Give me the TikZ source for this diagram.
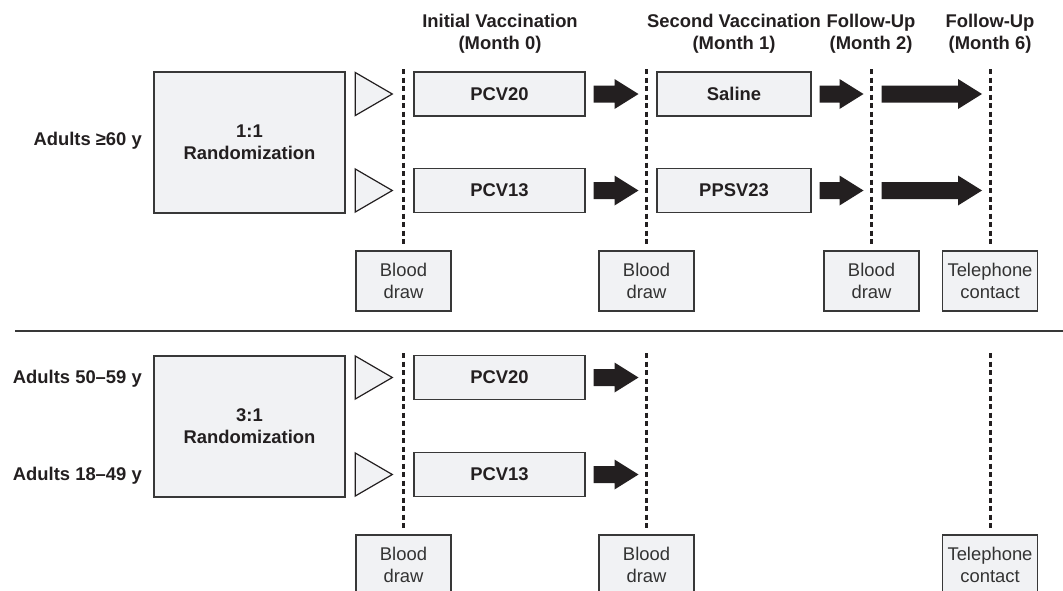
\documentclass[tikz,border=0pt]{standalone}
\usepackage{fontspec}
\setmainfont{Liberation Sans}
\usepackage{tikz}
\usetikzlibrary{calc,positioning}
\definecolor{ink}{HTML}{231F20}
\definecolor{edge}{HTML}{383838}
\definecolor{panel}{HTML}{F1F2F4}
\definecolor{soft}{HTML}{333333}
\tikzset{
  box/.style={draw=edge, fill=panel, line width=1.4pt, inner sep=0pt, align=center},
  randbox/.style={box, minimum width=191pt, minimum height=141pt, text=ink, font=\fontsize{18.4}{22}\selectfont\bfseries},
  vacbox/.style={box, minimum width=171pt, minimum height=44pt, text=ink, font=\fontsize{18.4}{22}\selectfont\bfseries},
  vacboxb/.style={vacbox, minimum width=154pt},
  evtbox/.style={box, minimum width=95pt, minimum height=60pt, text=soft, font=\fontsize{18.4}{22}\selectfont},
  grp/.style={anchor=east, inner sep=0pt, text=ink, font=\fontsize{18.4}{22}\selectfont\bfseries},
  hdr/.style={align=center, inner sep=0pt, text=ink, font=\fontsize{18.4}{22}\selectfont\bfseries},
  tline/.style={draw=ink, line width=3pt, dash pattern=on 5pt off 3.5pt, shorten >=4pt},
  tri/.style={draw=ink, fill=panel, line width=1.2pt, line join=miter},
  blk/.style={fill=ink},
  sep/.style={draw=edge, line width=1.3pt},
}
\newcommand{\blockarr}[2]{%
  \fill[blk] let \p1=(#1), \p2=(#2) in
    (\x1,\y1+8.5pt) -- (\x2-24pt,\y1+8.5pt) -- (\x2-24pt,\y1+15pt) -- (\x2,\y1)
    -- (\x2-24pt,\y1-15pt) -- (\x2-24pt,\y1-8.5pt) -- (\x1,\y1-8.5pt) -- cycle;}
\newcommand{\randtri}[1]{%
  \draw[tri] ($(#1.west)+(-58,-21.5)$) -- ($(#1.west)+(-21,0)$)
    -- ($(#1.west)+(-58,21.5)$) -- cycle;}

\begin{document}
\begin{tikzpicture}[x=1pt, y=-1pt]
\useasboundingbox (0,0) rectangle (1063,590);
\clip (0,0) rectangle (1063,590);

\node[hdr] (hd0) at (500,34) {Initial Vaccination\\(Month 0)};
\node[hdr] (hd1) at (734,34) {Second Vaccination\\(Month 1)};
\node[hdr] (hd2) at (871,34) {Follow-Up\\(Month 2)};
\node[hdr] (hd6) at (990,34) {Follow-Up\\(Month 6)};

\node[randbox] (randA) at (249.5,142.5) {1:1\\Randomization};
\node[grp] (ageA) at (142,141) {Adults ≥60 y};
\node[vacbox] (pcvA) at (499.5,94) {PCV20};
\node[vacbox] (pcvB) at (499.5,190.5) {PCV13};
\node[vacboxb] (salA) at (734,94) {Saline};
\node[vacboxb] (ppsB) at (734,190.5) {PPSV23};
\node[evtbox] (bdA) at (403.5,281) {Blood\\draw};
\node[evtbox] (bdB) at (646.5,281) {Blood\\draw};
\node[evtbox] (bdC) at (871.5,281) {Blood\\draw};
\node[evtbox] (telA) at (990,281) {Telephone\\contact};

\coordinate (m0) at (403.5,69);
\coordinate (m1) at (646.5,69);
\coordinate (m2) at (871.5,69);
\coordinate (m6) at (990,69);
\draw[tline] (m0) -- (bdA);
\draw[tline] (m1) -- (bdB);
\draw[tline] (m2) -- (bdC);
\draw[tline] (m6) -- (telA);

\randtri{pcvA}
\randtri{pcvB}
\blockarr{$(pcvA.east)+(8,0)$}{$(pcvA.east -| m1)+(-8,0)$}
\blockarr{$(pcvB.east)+(8,0)$}{$(pcvB.east -| m1)+(-8,0)$}
\blockarr{$(salA.east)+(8,0)$}{$(salA.east -| m2)+(-8,0)$}
\blockarr{$(ppsB.east)+(8,0)$}{$(ppsB.east -| m2)+(-8,0)$}
\blockarr{$(salA.east -| m2)+(10,0)$}{$(salA.east -| m6)+(-8,0)$}
\blockarr{$(ppsB.east -| m2)+(10,0)$}{$(ppsB.east -| m6)+(-8,0)$}

\draw[sep] (15,331) -- (1063,331);

\node[randbox] (randB) at (249.5,426.5) {3:1\\Randomization};
\node[grp] (ageB) at (142,379) {Adults 50–59 y};
\node[grp] (ageC) at (142,476) {Adults 18–49 y};
\node[vacbox] (pcvC) at (499.5,377.5) {PCV20};
\node[vacbox] (pcvD) at (499.5,474.5) {PCV13};
\node[evtbox] (bdD) at (403.5,565) {Blood\\draw};
\node[evtbox] (bdE) at (646.5,565) {Blood\\draw};
\node[evtbox] (telB) at (990,565) {Telephone\\contact};

\coordinate (n0) at (403.5,353);
\coordinate (n1) at (646.5,353);
\coordinate (n6) at (990,353);
\draw[tline] (n0) -- (bdD);
\draw[tline] (n1) -- (bdE);
\draw[tline] (n6) -- (telB);

\randtri{pcvC}
\randtri{pcvD}
\blockarr{$(pcvC.east)+(8,0)$}{$(pcvC.east -| n1)+(-8,0)$}
\blockarr{$(pcvD.east)+(8,0)$}{$(pcvD.east -| n1)+(-8,0)$}
\end{tikzpicture}
\end{document}
